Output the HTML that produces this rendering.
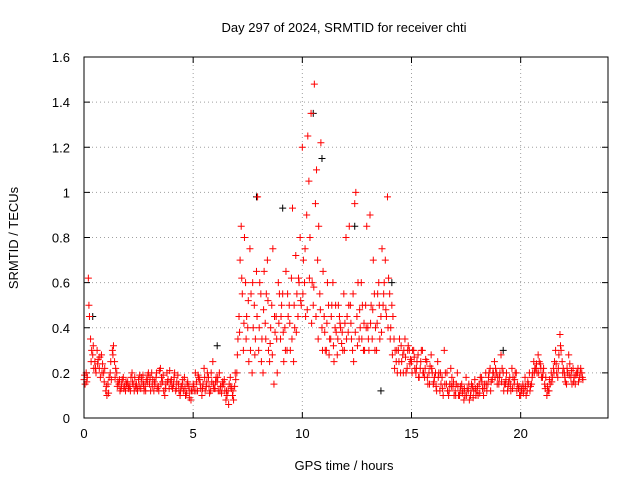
<!DOCTYPE html>
<html><head><meta charset="utf-8"><style>
body{margin:0;background:#fff}
svg{display:block;font-family:"Liberation Sans",sans-serif;font-size:13px}
</style></head><body>
<svg id="chart" width="640" height="480" viewBox="0 0 640 480">
<rect width="640" height="480" fill="#fff"/>
<text x="344" y="32" text-anchor="middle">Day 297 of 2024, SRMTID for receiver chti</text>
<text transform="translate(18,238) rotate(-90)" text-anchor="middle">SRMTID / TECUs</text>
<text x="344" y="470" text-anchor="middle">GPS time / hours</text>
<g id="grid"></g>
<g id="ticks"></g>
<g id="pts"></g>
<rect x="84" y="57" width="524" height="361" fill="none" stroke="#000" stroke-width="1"/>
</svg>
<script>
const xTicks=[0,5,10,15,20];
const yTicks=[0,0.2,0.4,0.6,0.8,1,1.2,1.4,1.6];
const yTickLabels=["0","0.2","0.4","0.6","0.8","1","1.2","1.4","1.6"];
const seriesA=[0.17,0.2,0.62,0.35,0.28,0.25,0.3,0.22,0.28,0.2,
0.12,0.15,0.2,0.3,0.25,0.2,0.15,0.13,0.18,0.12,
0.16,0.14,0.2,0.12,0.15,0.17,0.13,0.19,0.14,0.16,
0.15,0.2,0.12,0.18,0.14,0.22,0.16,0.1,0.2,0.13,
0.17,0.15,0.12,0.19,0.1,0.15,0.18,0.11,0.14,0.08,
0.15,0.2,0.12,0.17,0.1,0.22,0.14,0.18,0.12,0.25,
0.13,0.16,0.2,0.11,0.15,0.08,0.12,0.18,0.1,0.14,
0.2,0.45,0.85,0.3,0.6,0.4,0.75,0.2,0.5,0.65,
0.3,0.55,0.2,0.42,0.7,0.25,0.5,0.15,0.45,0.6,
0.35,0.55,0.4,0.3,0.5,0.62,0.25,0.72,0.45,0.8,
1.2,0.6,0.9,1.05,1.35,0.5,0.95,0.7,0.55,0.4,
0.45,0.3,0.5,0.35,0.6,0.4,0.28,0.45,0.33,0.55,
0.8,0.38,0.5,0.3,0.95,0.45,0.35,0.6,0.3,0.5,
0.4,0.9,0.35,0.55,0.3,0.6,0.45,0.5,0.7,0.98,
0.55,0.5,0.35,0.25,0.3,0.2,0.28,0.35,0.22,0.3,
0.25,0.3,0.2,0.28,0.22,0.3,0.18,0.25,0.2,0.28,
0.15,0.2,0.25,0.12,0.18,0.3,0.15,0.1,0.22,0.14,
0.12,0.2,0.1,0.15,0.08,0.18,0.12,0.1,0.14,0.17,
0.12,0.15,0.18,0.1,0.2,0.15,0.22,0.17,0.25,0.2,
0.15,0.28,0.2,0.15,0.12,0.18,0.22,0.15,0.2,0.13,
0.1,0.15,0.18,0.12,0.2,0.15,0.25,0.22,0.28,0.24,
0.18,0.15,0.1,0.12,0.2,0.22,0.3,0.18,0.37,0.25,
0.2,0.15,0.28,0.18,0.22,0.15,0.2,0.18,0.2];
const seriesB=[0.15,0.18,0.45,0.3,0.22,0.2,0.26,0.18,0.24,0.22,
0.1,0.18,0.17,0.32,0.22,0.16,0.12,0.17,0.14,0.15,
0.13,0.18,0.15,0.14,0.12,0.19,0.16,0.12,0.17,0.2,
0.12,0.17,0.15,0.13,0.21,0.18,0.12,0.15,0.17,0.16,
0.13,0.2,0.16,0.12,0.14,0.12,0.1,0.16,0.12,0.12,
0.12,0.16,0.18,0.13,0.15,0.12,0.2,0.11,0.16,0.13,
0.18,0.12,0.14,0.16,0.12,0.1,0.15,0.13,0.08,0.17,
0.35,0.7,0.55,0.8,0.45,0.25,0.55,0.4,0.35,0.98,
0.6,0.35,0.65,0.55,0.3,0.4,0.75,0.38,0.2,0.55,
0.5,0.25,0.65,0.45,0.3,0.93,0.4,0.55,0.6,0.5,
0.7,0.45,1.25,0.8,0.6,1.48,1.1,0.85,1.22,0.65,
0.3,0.6,0.35,0.5,0.25,0.38,0.5,0.4,0.3,0.42,
0.45,0.85,0.35,0.25,1.0,0.6,0.4,0.5,0.3,0.85,
0.3,0.5,0.7,0.4,0.55,0.35,0.75,0.6,0.45,0.62,
0.4,0.45,0.3,0.2,0.35,0.25,0.3,0.2,0.32,0.26,
0.3,0.22,0.25,0.18,0.3,0.2,0.26,0.15,0.23,0.2,
0.18,0.12,0.2,0.15,0.1,0.2,0.12,0.15,0.18,0.1,
0.15,0.1,0.14,0.12,0.1,0.13,0.08,0.15,0.12,0.1,
0.1,0.18,0.13,0.15,0.12,0.2,0.16,0.2,0.22,0.18,
0.2,0.22,0.15,0.2,0.16,0.12,0.18,0.2,0.15,0.1,
0.12,0.13,0.1,0.15,0.14,0.2,0.22,0.2,0.25,0.18,
0.22,0.18,0.12,0.15,0.18,0.25,0.2,0.28,0.3,0.22,
0.16,0.2,0.24,0.15,0.18,0.2,0.16,0.22,0.17];
const seriesC=[0.19,0.16,0.5,0.25,0.32,0.22,0.24,0.27,0.2,0.16,
0.14,0.11,0.25,0.28,0.18,0.14,0.17,0.15,0.13,0.16,
0.14,0.12,0.16,0.18,0.13,0.14,0.18,0.15,0.12,0.19,
0.18,0.14,0.16,0.2,0.12,0.15,0.19,0.13,0.16,0.21,
0.14,0.18,0.13,0.15,0.12,0.17,0.13,0.15,0.09,0.12,
0.14,0.12,0.19,0.15,0.13,0.18,0.16,0.14,0.2,0.15,
0.16,0.18,0.12,0.14,0.17,0.12,0.06,0.14,0.12,0.2,
0.28,0.38,0.62,0.42,0.35,0.52,0.3,0.6,0.28,0.45,
0.4,0.25,0.48,0.35,0.52,0.33,0.28,0.45,0.35,0.42,
0.45,0.38,0.3,0.55,0.42,0.35,0.5,0.38,0.62,0.52,
0.55,0.75,0.48,0.62,0.42,0.58,0.45,0.35,0.48,0.3,
0.38,0.42,0.28,0.45,0.32,0.5,0.35,0.42,0.38,0.3,
0.35,0.5,0.42,0.55,0.38,0.32,0.48,0.35,0.42,0.4,
0.35,0.42,0.48,0.3,0.42,0.5,0.38,0.55,0.48,0.4,
0.35,0.28,0.22,0.3,0.25,0.32,0.2,0.27,0.3,0.24,
0.2,0.27,0.22,0.18,0.25,0.2,0.22,0.18,0.15,0.22,
0.16,0.14,0.18,0.2,0.13,0.15,0.2,0.12,0.14,0.16,
0.1,0.14,0.12,0.11,0.13,0.1,0.15,0.12,0.09,0.13,
0.14,0.11,0.16,0.13,0.15,0.18,0.12,0.2,0.18,0.15,
0.18,0.16,0.12,0.17,0.14,0.15,0.13,0.17,0.12,0.14,
0.13,0.11,0.14,0.16,0.12,0.18,0.2,0.24,0.2,0.22,
0.2,0.13,0.14,0.17,0.16,0.2,0.24,0.22,0.32,0.2,
0.18,0.22,0.19,0.21,0.16,0.19,0.22,0.2,0.18];
const blackTimes=[0.4,6.1,7.9,9.1,10.5,10.9,12.4,13.6,14.1,19.2];
const blackValues=[0.45,0.32,0.98,0.93,1.35,1.15,0.85,0.12,0.6,0.3];
const NS="http://www.w3.org/2000/svg";
const X0=84,X1=608,Y0=418,Y1=57,XMAX=24,YMAX=1.6;
function xs(t){return X0+t/XMAX*(X1-X0);}
function ys(v){return Y0-v/YMAX*(Y0-Y1);}
function mk(tag,attrs,parent){const e=document.createElementNS(NS,tag);for(const k in attrs)e.setAttribute(k,attrs[k]);parent.appendChild(e);return e;}
const grid=document.getElementById('grid'),ticks=document.getElementById('ticks'),pts=document.getElementById('pts');
xTicks.forEach(t=>{const x=xs(t);
 if(t>0){const g=mk('line',{x1:x,x2:x,y1:Y1,y2:Y0,stroke:'#a0a0a0','stroke-dasharray':'1,3'},grid);
 
 }
 mk('line',{x1:x,x2:x,y1:Y0,y2:Y0-6,stroke:'#000'},ticks);
 mk('line',{x1:x,x2:x,y1:Y1,y2:Y1+6,stroke:'#000'},ticks);
 const l=mk('text',{x:x,y:Y0+20,'text-anchor':'middle'},ticks);l.textContent=t;
 
 });
yTicks.forEach((v,i)=>{const y=ys(v);
 if(v>0&&v<YMAX){const g=mk('line',{x1:X0,x2:X1,y1:y,y2:y,stroke:'#a0a0a0','stroke-dasharray':'1,3'},grid);
 
 }
 mk('line',{x1:X0,x2:X0+6,y1:y,y2:y,stroke:'#000'},ticks);
 mk('line',{x1:X1,x2:X1-6,y1:y,y2:y,stroke:'#000'},ticks);
 const l=mk('text',{x:X0-14,y:y+5,'text-anchor':'end'},ticks);l.textContent=yTickLabels[i];
 
 });
function plus(t,v,c){const x=xs(t),y=ys(v);
 const p=mk('path',{d:`M${x-3.5},${y}h7M${x},${y-3.5}v7`,stroke:c,'stroke-width':1,fill:'none'},pts);
 
 }
blackTimes.forEach((t,i)=>plus(t,blackValues[i],'#000'));
seriesA.forEach((v,i)=>plus(i*0.1,v,'#f00'));
seriesB.forEach((v,i)=>plus(i*0.1+0.05,v,'#f00'));
seriesC.forEach((v,i)=>plus(i*0.1+0.025,v,'#f00'));
</script>
</body></html>
